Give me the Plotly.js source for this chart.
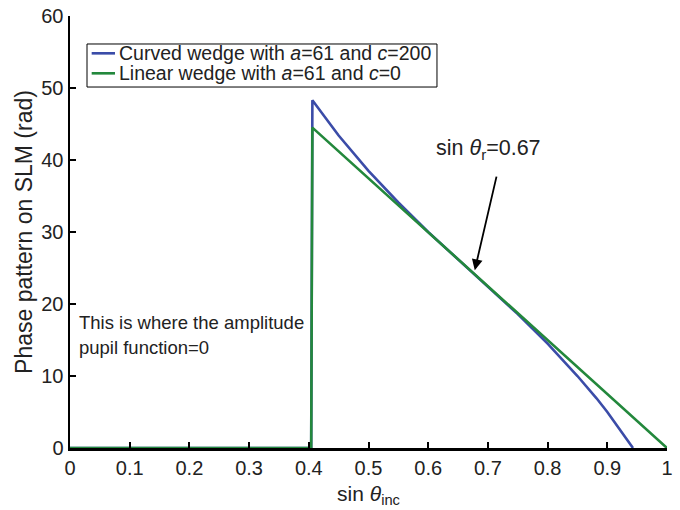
<!DOCTYPE html>
<html>
<head>
<meta charset="utf-8">
<script src="https://cdn.plot.ly/plotly-3.0.1.min.js"></script>
<style>html,body{margin:0;padding:0;background:#fff;}#chart{width:680px;height:510px;}</style>
</head>
<body>
<div id="chart"></div>
<script>
// sin(theta_inc) values and phase (rad)
const curvedX = [0, 0.404, 0.406, 0.45, 0.5, 0.55, 0.6, 0.65, 0.7, 0.75, 0.8, 0.85, 0.882, 0.9, 0.943];
const curvedY = [0, 0, 48.3, 43.4, 38.5, 34.1, 30.0, 26.2, 22.5, 18.6, 14.5, 10.0, 6.9, 5.0, 0];
const linearX = [0, 0.404, 0.406, 1.0];
const linearY = [0, 0, 44.5, 0];
const seriesNames = ['Curved wedge with <i>a</i>=61 and <i>c</i>=200',
                     'Linear wedge with <i>a</i>=61 and <i>c</i>=0'];
const xTicks = [0, 0.1, 0.2, 0.3, 0.4, 0.5, 0.6, 0.7, 0.8, 0.9, 1];
const xTickText = ['0', '0.1', '0.2', '0.3', '0.4', '0.5', '0.6', '0.7', '0.8', '0.9', '1'];
const yTicks = [0, 10, 20, 30, 40, 50, 60];
const arrowHead = [0.678, 24.7];
const arrowTail = [0.715, 37.9];

const FONT = 'Liberation Sans, Arial, sans-serif';
const TXT = '#222';
const colors = ['#3b4ca8', '#23883c'];

const traces = [
  {x: curvedX, y: curvedY, type: 'scatter', mode: 'lines', name: seriesNames[0],
   line: {color: colors[0], width: 2.6}},
  {x: linearX, y: linearY, type: 'scatter', mode: 'lines', name: seriesNames[1],
   line: {color: colors[1], width: 2.6}}
];

// legend box (drawn to match the compact legend of the reference)
const legBox = {x0: 0.0285, x1: 0.6147, y0: 0.8356, y1: 0.9352};
const legRows = [0.9136, 0.8673];
const shapes = [
  {type: 'rect', xref: 'paper', yref: 'paper', x0: legBox.x0, x1: legBox.x1, y0: legBox.y0, y1: legBox.y1,
   line: {color: '#000', width: 1}, fillcolor: '#fff', layer: 'above'}
];
const legAnn = [];
seriesNames.forEach((nm, i) => {
  shapes.push({type: 'line', xref: 'paper', yref: 'paper', x0: 0.0363, x1: 0.0754, y0: legRows[i], y1: legRows[i],
               line: {color: colors[i], width: 2.6}, layer: 'above'});
  legAnn.push({xref: 'paper', yref: 'paper', x: 0.0785, y: legRows[i], xanchor: 'left', yanchor: 'middle',
               showarrow: false, text: nm, font: {size: 19.5, family: FONT, color: TXT}});
});

const layout = {
  width: 680, height: 510,
  margin: {l: 70, r: 13, t: 16, b: 62},
  paper_bgcolor: '#fff', plot_bgcolor: '#fff',
  font: {family: FONT, color: TXT, size: 19},
  showlegend: false,
  xaxis: {range: [0, 1], tickvals: xTicks, ticktext: xTickText,
          showgrid: false, zeroline: false, showline: true, linecolor: '#000', linewidth: 2.5,
          ticks: 'inside', ticklen: 6, tickwidth: 2, tickcolor: '#000',
          tickfont: {size: 20, family: FONT, color: TXT},
          title: {text: 'sin <i>θ</i><sub>inc</sub>', font: {size: 21, family: FONT, color: TXT}, standoff: 9}},
  yaxis: {range: [0, 60], tickvals: yTicks,
          showgrid: false, zeroline: false, showline: true, linecolor: '#000', linewidth: 2.5,
          ticks: 'inside', ticklen: 6, tickwidth: 2, tickcolor: '#000',
          tickfont: {size: 20, family: FONT, color: TXT},
          title: {text: 'Phase pattern on SLM (rad)', font: {size: 23, family: FONT, color: TXT}, standoff: 2}},
  shapes: shapes,
  annotations: [
    {x: arrowHead[0], y: arrowHead[1], ax: arrowTail[0], ay: arrowTail[1], axref: 'x', ayref: 'y',
     xref: 'x', yref: 'y', text: '', showarrow: true, arrowhead: 2, arrowsize: 1.2, arrowwidth: 1.8, arrowcolor: '#000'},
    {x: 0.61, y: 41.4, xref: 'x', yref: 'y', xanchor: 'left', yanchor: 'middle', showarrow: false,
     text: 'sin <i>θ</i><sub>r</sub>=0.67', font: {size: 21.5, family: FONT, color: TXT}},
    {x: 0.012, y: 17.5, xref: 'x', yref: 'y', xanchor: 'left', yanchor: 'middle', showarrow: false,
     text: 'This is where the amplitude', font: {size: 18.5, family: FONT, color: TXT}},
    {x: 0.012, y: 13.9, xref: 'x', yref: 'y', xanchor: 'left', yanchor: 'middle', showarrow: false,
     text: 'pupil function=0', font: {size: 18.5, family: FONT, color: TXT}}
  ].concat(legAnn)
};

Plotly.newPlot('chart', traces, layout, {displayModeBar: false, staticPlot: true});
</script>
</body>
</html>
